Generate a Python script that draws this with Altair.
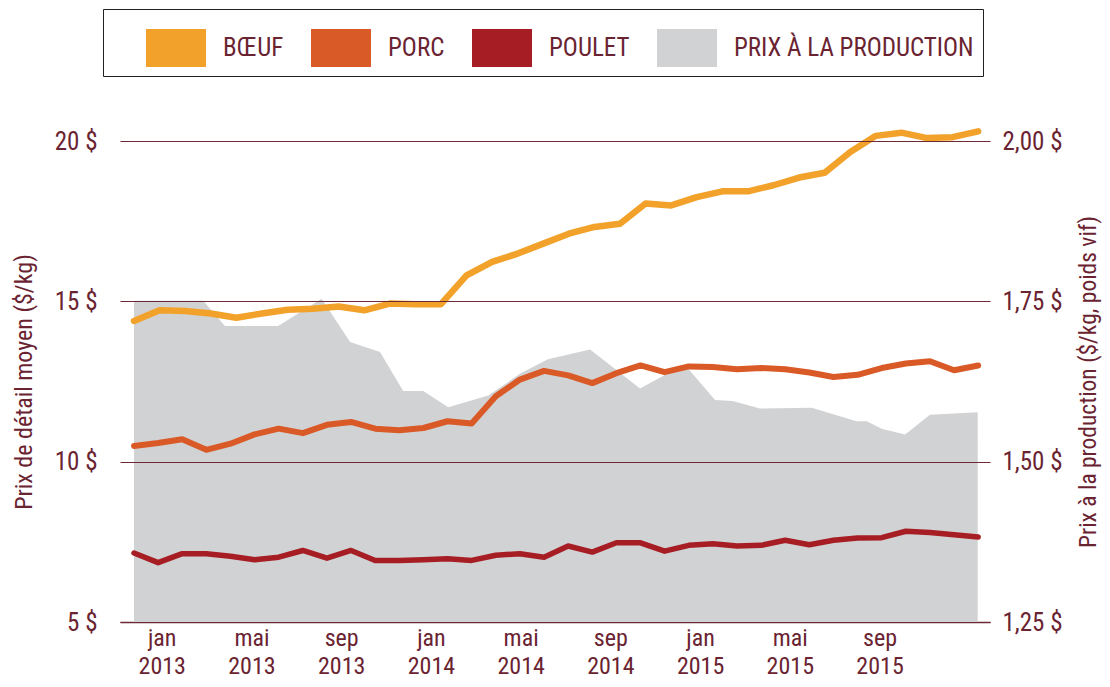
import altair as alt
import pandas as pd

# ---------------- data ----------------
series_names = ["BŒUF", "PORC", "POULET"]
area_name = "PRIX À LA PRODUCTION"
legend_names = ["BŒUF", "PORC", "POULET", "PRIX À LA PRODUCTION"]

# retail prices ($/kg), monthly
beef = [14.39, 14.72, 14.70, 14.62, 14.49, 14.62, 14.74, 14.77, 14.84, 14.72,
        14.93, 14.91, 14.91, 15.81, 16.23, 16.49, 16.80, 17.11, 17.32, 17.42,
        18.05, 17.99, 18.25, 18.43, 18.43, 18.62, 18.86, 19.01, 19.66, 20.16,
        20.26, 20.09, 20.12, 20.30]
pork = [10.49, 10.58, 10.70, 10.37, 10.56, 10.85, 11.03, 10.89, 11.15, 11.24,
        11.03, 10.98, 11.05, 11.26, 11.19, 12.04, 12.56, 12.83, 12.69, 12.45,
        12.76, 13.00, 12.79, 12.97, 12.95, 12.88, 12.92, 12.88, 12.78, 12.64,
        12.71, 12.92, 13.06, 13.13, 12.85, 13.00]
chicken = [7.15, 6.85, 7.13, 7.13, 7.05, 6.94, 7.02, 7.23, 6.99, 7.23,
           6.92, 6.92, 6.94, 6.97, 6.92, 7.08, 7.13, 7.02, 7.37, 7.18,
           7.47, 7.47, 7.21, 7.39, 7.44, 7.37, 7.39, 7.55, 7.41, 7.55,
           7.62, 7.63, 7.83, 7.79, 7.72, 7.65]
month_index = list(range(36))
beef_index = [i * 35 / 33 for i in range(len(beef))]

# producer price ($/kg live weight)
area_t = [0, 2.87, 3.77, 5.98, 7.78, 8.96, 10.2, 11.16, 11.99, 13.03, 14.69, 16.0,
          17.16, 18.91, 20.98, 22.01, 22.98, 24.09, 24.82, 25.95, 28.1, 28.99,
          29.96, 30.38, 31.0, 31.97, 33.0, 34.98]
area_v = [1.751, 1.751, 1.7115, 1.7115, 1.754, 1.6865, 1.671, 1.610, 1.610, 1.585,
          1.603, 1.637, 1.6595, 1.675, 1.614, 1.635, 1.645, 1.596, 1.5945, 1.583,
          1.584, 1.574, 1.563, 1.563, 1.5515, 1.5425, 1.573, 1.577]

# axis labels
x_tick_pos = [1.15, 4.87, 8.59, 12.31, 16.03, 19.75, 23.47, 27.19, 30.91]
x_tick_month = ["jan", "mai", "sep", "jan", "mai", "sep", "jan", "mai", "sep"]
x_tick_year = ["2013", "2013", "2013", "2014", "2014", "2014", "2015", "2015", "2015"]
left_ticks = [5, 10, 15, 20]
right_ticks = [1.25, 1.50, 1.75, 2.00]

# ---------------- style ----------------
FONT = "Roboto Condensed, Liberation Sans Narrow, Arial Narrow, DejaVu Sans Condensed, sans-serif"
MAROON = "#6a2331"
GRID = "#6b2a36"
colors = ["#F2A22A", "#DA5A27", "#A61E24", "#D1D2D4"]
FS = 25      # tick labels
TFS = 24     # axis titles
LFS = 25     # legend labels

line_df = pd.DataFrame({
    "t": beef_index + month_index + month_index,
    "value": beef + pork + chicken,
    "series": ["BŒUF"] * len(beef) + ["PORC"] * len(pork) + ["POULET"] * len(chicken),
})
area_df = pd.DataFrame({"t": area_t, "value": area_v, "series": area_name})

label_list = "[" + ",".join(f"['{m}','{y}']" for m, y in zip(x_tick_month, x_tick_year)) + "]"
step = (x_tick_pos[-1] - x_tick_pos[0]) / (len(x_tick_pos) - 1)
x_label_expr = f"{label_list}[round((datum.value - {x_tick_pos[0]}) / {step})]"

x_scale = alt.Scale(domain=[-0.58, 35.49], nice=False, zero=False)


def x_axis():
    return alt.Axis(values=x_tick_pos, labelExpr=x_label_expr, title=None, grid=False,
                    ticks=False, domain=True, domainColor=GRID, domainWidth=1.5,
                    labelFontSize=24, labelColor=MAROON, labelFont=FONT, labelPadding=4,
                    labelLineHeight=28, labelAngle=0, labelAlign="center",
                    labelBaseline="top", labelFlush=False, labelOverlap=False)


legend_label_expr = ("datum.value == '" + area_name + "' ? "
                     "datum.value + '\\u2002\\u2002\\u2002' : datum.value")

area = alt.Chart(area_df).mark_area(interpolate="linear", opacity=1).encode(
    x=alt.X("t:Q", scale=x_scale, axis=x_axis()),
    y=alt.Y("value:Q",
            scale=alt.Scale(domain=[1.25, 2.0], nice=False, zero=False),
            axis=alt.Axis(orient="right", values=right_ticks,
                          labelExpr="replace(format(datum.value, '.2f'), '.', ',') + ' $'",
                          title="Prix à la production ($/kg, poids vif)", titleAngle=270,
                          titleBaseline="top",
                          titleFont=FONT, titleFontSize=23.5, titleFontWeight="normal",
                          titleColor=MAROON, titlePadding=14,
                          grid=False, ticks=False, domain=False,
                          labelFont=FONT, labelFontSize=FS, labelColor=MAROON,
                          labelPadding=12)),
    y2=alt.datum(1.25),
    fill=alt.Fill("series:N",
                  scale=alt.Scale(domain=legend_names, range=colors),
                  legend=alt.Legend(title=" ", titleOrient="left", titleFontSize=2,
                                    titlePadding=34, orient="none", legendX=-17, legendY=-132,
                                    direction="horizontal", columns=4,
                                    symbolType="M-1,-0.633H1V0.633H-1Z", symbolSize=3600,
                                    symbolStrokeWidth=0, symbolOpacity=1,
                                    labelFont=FONT, labelFontSize=LFS, labelColor=MAROON,
                                    labelLimit=400, labelExpr=legend_label_expr,
                                    labelOffset=17, columnPadding=27, padding=9,
                                    strokeColor="#231f20", fillColor="white")),
)

lines = alt.Chart(line_df).mark_line(strokeCap="round", strokeJoin="round").encode(
    x=alt.X("t:Q", scale=x_scale, axis=x_axis()),
    y=alt.Y("value:Q",
            scale=alt.Scale(domain=[5, 20], nice=False, zero=False),
            axis=alt.Axis(orient="left", values=left_ticks,
                          labelExpr="datum.value + ' $'",
                          title="Prix de détail moyen ($/kg)",
                          titleFont=FONT, titleFontSize=TFS, titleFontWeight="normal",
                          titleColor=MAROON, titlePadding=18,
                          grid=True, gridColor=GRID, gridWidth=1, zindex=1,
                          ticks=False, domain=False,
                          labelFont=FONT, labelFontSize=FS, labelColor=MAROON,
                          labelPadding=23)),
    stroke=alt.Stroke("series:N", scale=alt.Scale(domain=series_names, range=colors[:3]),
                      legend=None),
    strokeWidth=alt.StrokeWidth("series:N",
                                scale=alt.Scale(domain=series_names, range=[6.5, 5.5, 6]),
                                legend=None),
)

chart = alt.layer(area, lines).resolve_scale(
    y="independent"
).properties(
    width=870, height=481,
    autosize=alt.AutoSizeParams(type="none"),
    padding={"left": 112, "top": 133, "right": 112, "bottom": 57},
    background="white",
).configure_view(stroke=None)

chart.save("out.html", embed_options={"renderer": "svg", "actions": False})
